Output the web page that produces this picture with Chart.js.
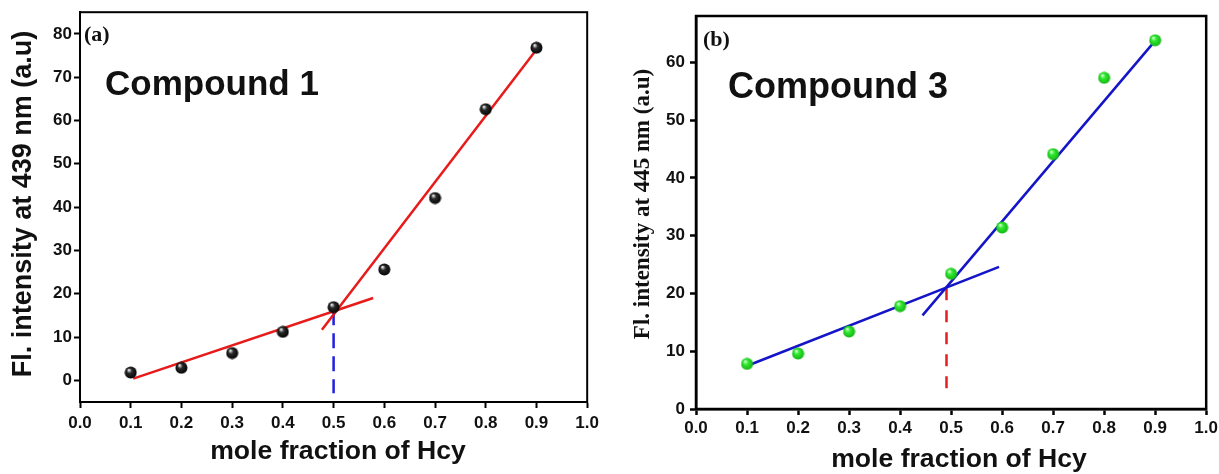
<!DOCTYPE html>
<html>
<head>
<meta charset="utf-8">
<script src="https://cdn.jsdelivr.net/npm/chart.js@4.4.1/dist/chart.umd.min.js"></script>
<style>
  html, body { margin: 0; padding: 0; background: #fff; }
  body { width: 1219px; height: 474px; position: relative; overflow: hidden; }
  canvas { position: absolute; top: 0; }
  #chartA { left: 0; }
  #chartB { left: 612px; }
</style>
</head>
<body>
<canvas id="chartA" width="604" height="474"></canvas>
<canvas id="chartB" width="609" height="474"></canvas>
<script>
// mole fraction of Hcy (x) and emission intensity for both compounds
const molFraction = [0.1, 0.2, 0.3, 0.4, 0.5, 0.6, 0.7, 0.8, 0.9];
const intensity439 = [1.8, 2.9, 6.3, 11.2, 16.9, 25.6, 42.1, 62.6, 76.8];
const intensity445 = [7.8, 9.6, 13.4, 17.8, 23.4, 31.4, 44.1, 57.3, 63.8];

// straight-line fits drawn over the points, and the dashed drop line at the break
const fitLowAx = [0.105, 0.578];
const fitLowAy = [0.4, 19.0];
const fitHighAx = [0.477, 0.899];
const fitHighAy = [11.7, 76.2];
const dropAx = [0.5, 0.5];
const dropAy = [16.2, -3];

const fitLowBx = [0.098, 0.594];
const fitLowBy = [7.4, 24.6];
const fitHighBx = [0.444, 0.896];
const fitHighBy = [16.2, 63.3];
const dropBx = [0.491, 0.491];
const dropBy = [20.9, 1.85];

// tick labels
const xTicks = [0, 0.1, 0.2, 0.3, 0.4, 0.5, 0.6, 0.7, 0.8, 0.9, 1.0];
const yTicksA = [0, 10, 20, 30, 40, 50, 60, 70, 80];
const yTicksB = [0, 10, 20, 30, 40, 50, 60];

const SANS = '"Liberation Sans", Arial, sans-serif';
const SERIF = '"Liberation Serif", "Times New Roman", serif';

const pts = (xs, ys) => xs.map((x, i) => ({ x: x, y: ys[i] }));

// little shaded ball used as the marker
function makeBall(size, light, mid, dark) {
  const c = document.createElement('canvas');
  c.width = c.height = size;
  const g = c.getContext('2d');
  const r = size / 2;
  const grad = g.createRadialGradient(r * 0.7, r * 0.6, 0.4, r, r, r);
  grad.addColorStop(0, light);
  grad.addColorStop(0.35, mid);
  grad.addColorStop(1, dark);
  g.fillStyle = grad;
  g.beginPath();
  g.arc(r, r, r - 0.5, 0, Math.PI * 2);
  g.fill();
  return c;
}
const blackBall = makeBall(13, '#f0f0f0', '#2a2a2a', '#000');
const greenBall = makeBall(13, '#d8ffd0', '#30ea30', '#12b012');

// box around the plot area, axis titles, panel letter and compound name
const panelDecor = {
  id: 'panelDecor',
  afterDraw(chart, args, o) {
    const { ctx, chartArea: a } = chart;
    ctx.save();
    ctx.strokeStyle = '#000';
    ctx.lineWidth = o.frame;
    ctx.strokeRect(a.left, a.top, a.right - a.left, a.bottom - a.top);
    ctx.fillStyle = '#111';
    ctx.textBaseline = 'alphabetic';
    ctx.textAlign = 'left';
    ctx.font = 'bold 22px ' + SERIF;
    ctx.fillText(o.letter, a.left + o.letterDx, a.top + o.letterDy);
    ctx.font = 'bold ' + o.nameSize + 'px ' + SANS;
    ctx.fillText(o.name, a.left + o.nameDx, a.top + o.nameDy);

    ctx.textAlign = 'center';
    ctx.textBaseline = 'middle';
    ctx.font = o.xTitle.font;
    ctx.fillText(o.xTitle.text, o.xTitle.x, o.xTitle.y);
    ctx.translate(o.yTitle.x, o.yTitle.y);
    ctx.rotate(-Math.PI / 2);
    ctx.font = o.yTitle.font;
    ctx.fillText(o.yTitle.text, 0, 0);
    ctx.restore();
  }
};

function lineSet(xs, ys, color, dash) {
  return {
    data: pts(xs, ys),
    showLine: true,
    borderColor: color,
    borderWidth: 2.5,
    borderDash: dash || [],
    pointRadius: 0,
    order: 2
  };
}

function makePanel(id, cfg) {
  return new Chart(document.getElementById(id), {
    type: 'scatter',
    data: {
      datasets: [
        {
          data: pts(molFraction, cfg.values),
          pointStyle: cfg.ball,
          pointRadius: 6,
          order: 1
        },
        lineSet(cfg.lowX, cfg.lowY, cfg.fitColor),
        lineSet(cfg.highX, cfg.highY, cfg.fitColor),
        lineSet(cfg.dropX, cfg.dropY, cfg.dropColor, cfg.dash)
      ]
    },
    options: {
      responsive: false,
      animation: false,
      devicePixelRatio: 1,
      layout: { autoPadding: false, padding: { top: cfg.top, right: 0, left: 0, bottom: 0 } },
      plugins: {
        legend: { display: false },
        tooltip: { enabled: false },
        panelDecor: cfg.decor
      },
      scales: {
        x: {
          type: 'linear',
          min: 0,
          max: 1,
          afterBuildTicks: s => { s.ticks = xTicks.map(v => ({ value: v })); },
          afterFit: s => { s.height = cfg.xHeight; },
          grid: { drawOnChartArea: false, drawTicks: true, tickLength: 6, tickWidth: cfg.frame, tickColor: '#000' },
          border: { display: true, color: '#000', width: cfg.frame },
          ticks: {
            color: '#111',
            padding: cfg.xPad,
            maxRotation: 0,
            font: { family: SANS, size: 17, weight: 'bold' },
            callback: v => v.toFixed(1)
          }
        },
        y: {
          type: 'linear',
          min: cfg.yMin,
          max: cfg.yMax,
          afterBuildTicks: s => { s.ticks = cfg.yTicks.map(v => ({ value: v })); },
          afterFit: s => { s.width = cfg.yWidth; },
          grid: { drawOnChartArea: false, drawTicks: true, tickLength: 6, tickWidth: cfg.frame, tickColor: '#000' },
          border: { display: true, color: '#000', width: cfg.frame },
          ticks: {
            color: '#111',
            padding: cfg.yPad,
            font: { family: SANS, size: 17, weight: 'bold' }
          }
        }
      }
    },
    plugins: [panelDecor]
  });
}

makePanel('chartA', {
  values: intensity439,
  ball: blackBall,
  lowX: fitLowAx, lowY: fitLowAy,
  highX: fitHighAx, highY: fitHighAy,
  dropX: dropAx, dropY: dropAy,
  fitColor: '#e81a1a',
  dropColor: '#2020e0',
  dash: [15, 8],
  yMin: -5, yMax: 85,
  yTicks: yTicksA,
  top: 12,
  frame: 2,
  xHeight: 72,
  yWidth: 80,
  xPad: 5,
  yPad: 2,
  decor: {
    frame: 2,
    letter: '(a)', letterDx: 4, letterDy: 29,
    name: 'Compound 1', nameSize: 35, nameDx: 25, nameDy: 83,
    xTitle: { text: 'mole fraction of Hcy', font: 'bold 26.6px ' + SANS, x: 338, y: 452 },
    yTitle: { text: 'Fl. intensity at 439 nm (a.u)', font: 'bold 27px ' + SANS, x: 24, y: 204 }
  }
});

makePanel('chartB', {
  values: intensity445,
  ball: greenBall,
  lowX: fitLowBx, lowY: fitLowBy,
  highX: fitHighBx, highY: fitHighBy,
  dropX: dropBx, dropY: dropBy,
  fitColor: '#1414c8',
  dropColor: '#e02020',
  dash: [12, 10],
  yMin: 0, yMax: 68,
  yTicks: yTicksB,
  top: 16,
  frame: 2.5,
  xHeight: 65,
  yWidth: 84,
  xPad: 3,
  yPad: 5,
  decor: {
    frame: 2.5,
    letter: '(b)', letterDx: 7, letterDy: 30,
    name: 'Compound 3', nameSize: 36, nameDx: 32, nameDy: 82,
    xTitle: { text: 'mole fraction of Hcy', font: 'bold 26.6px ' + SANS, x: 347, y: 460 },
    yTitle: { text: 'Fl. intensity at 445 nm (a.u)', font: 'bold 23px ' + SERIF, x: 31, y: 204 }
  }
});
</script>
</body>
</html>
